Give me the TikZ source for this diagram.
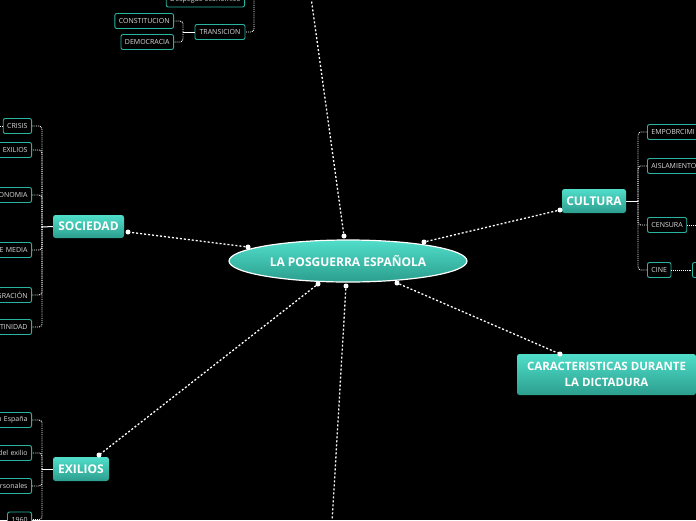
\documentclass[tikz,border=0pt]{standalone}
\usepackage{fontspec}
\setmainfont{Open Sans}
\usetikzlibrary{shapes.geometric}
\definecolor{tealtop}{RGB}{80,222,202}
\definecolor{tealbot}{RGB}{44,158,142}
\definecolor{leafc}{RGB}{40,180,160}
\definecolor{leaftext}{RGB}{220,220,220}
\begin{document}
\begin{tikzpicture}[x=1pt,y=-1pt,
  mainnode/.style={ellipse, draw=white, line width=1.2pt, top color=tealtop, bottom color=tealbot,
    minimum width=238pt, minimum height=42pt, inner sep=0pt, text=white,
    font=\bfseries\fontsize{12}{14}\selectfont},
  topic/.style={rectangle, rounded corners=2.5pt, top color=tealtop, bottom color=tealbot,
    text=white, inner sep=0pt, font=\bfseries\fontsize{12}{14}\selectfont},
  leaf/.style={rectangle, rounded corners=2pt, draw=leafc, line width=0.9pt, fill=black,
    text=leaftext, font=\fontsize{7}{8}\selectfont, minimum height=15pt, inner xsep=4pt, inner ysep=0pt},
  cutleft/.style={leaf, anchor=east, text width=70pt, align=right},
  cutright/.style={leaf, anchor=west, text width=70pt, align=left},
  link/.style={white, line width=1.3pt, dash pattern=on 2pt off 2pt},
  branch/.style={white, line width=0.9pt, densely dotted, rounded corners=3pt},
  stem/.style={white, line width=1pt},
  dotc/.style={circle, fill=white, inner sep=0pt, minimum size=5pt}]
\useasboundingbox (0,0) rectangle (696,520);
\fill[black] (0,0) rectangle (696,520);
\clip (0,0) rectangle (696,520);

% central node
\node[mainnode] (main) at (348,261) {LA POSGUERRA ESPAÑOLA};

% topics
\node[topic, minimum width=71pt, minimum height=23pt] (soc) at (88.5,226.5) {SOCIEDAD};
\node[topic, minimum width=64pt, minimum height=24pt] (cul) at (594,201) {CULTURA};
\node[topic, minimum width=179pt, minimum height=41pt, align=center,
  font=\bfseries\fontsize{11.5}{16}\selectfont] (car) at (606.5,374.5) {CARACTERISTICAS DURANTE\\LA DICTADURA};
\node[topic, minimum width=56pt, minimum height=24pt] (exi) at (81,469) {EXILIOS};

% off-picture ends
\coordinate (topend) at (311,-3);
\coordinate (botend) at (332,523);

% dots
\node[dotc] (mt) at (344,236) {};
\node[dotc] (ms) at (248,247) {};
\node[dotc] (mc) at (424,242) {};
\node[dotc] (mr) at (397,283) {};
\node[dotc] (me) at (318,284) {};
\node[dotc] (mb) at (346,286) {};
\node[dotc] (ds) at (128,232) {};
\node[dotc] (dc) at (560,210) {};
\node[dotc] (dr) at (560,354) {};
\node[dotc] (de) at (99,455) {};

% main links
\draw[link] (mt) -- (topend);
\draw[link] (ms) -- (ds);
\draw[link] (mc) -- (dc);
\draw[link] (mr) -- (dr);
\draw[link] (me) -- (de);
\draw[link] (mb) -- (botend);

% top-left group
\node[leaf, anchor=east] (desp) at (245,-0.5) {Despegue economico};
\node[leaf, minimum width=50pt] (tra) at (220,32) {TRANSICION};
\node[leaf, anchor=east] (con) at (174,21) {CONSTITUCION};
\node[leaf, anchor=east] (dem) at (174,42) {DEMOCRACIA};
\coordinate (tb) at (254,-10);
\coordinate (tl) at (183,32);
\draw[branch] (tb) |- (tra.east);
\draw[branch] (tb) |- (desp.east);
\draw[stem] (tra.west) -- (tl);
\draw[branch] (tl) |- (con.east);
\draw[branch] (tl) |- (dem.east);

% sociedad children
\node[leaf, anchor=east] (s1) at (32,126) {CRISIS};
\node[cutleft] (s2) at (32,150) {EXILIOS};
\node[cutleft] (s3) at (32,195) {ONOMIA};
\node[cutleft] (s4) at (32,250) {E MEDIA};
\node[cutleft] (s5) at (32,295) {GRACIÓN};
\node[cutleft] (s6) at (32,327) {TINIDAD};
\coordinate (sb) at (42,227);
\coordinate (s1l) at (-6,126);
\draw[stem] (soc.west) -- (sb);
\foreach \c in {s1,s2,s3,s4,s5,s6} \draw[branch] (sb) |- (\c.east);
\draw[branch] (s1.west) -- (s1l);

% exilios children
\node[cutleft] (e1) at (32,420) {n España};
\node[cutleft] (e2) at (32,453) {del exilio};
\node[cutleft] (e3) at (32,486) {rsonales};
\node[leaf, anchor=east] (e4) at (32,519.5) {1960};
\coordinate (eb) at (42,469);
\draw[stem] (exi.west) -- (eb);
\foreach \c in {e1,e2,e3,e4} \draw[branch] (eb) |- (\c.east);

% cultura children
\node[cutright] (c1) at (647,132) {EMPOBRCIMI};
\node[leaf, anchor=west] (c2) at (647,166) {AISLAMIENTO};
\node[leaf, anchor=west] (c3) at (647,225) {CENSURA};
\node[leaf, anchor=west] (c4) at (647,270) {CINE};
\node[leaf, anchor=west, minimum width=20pt] (c5) at (692,270) {};
\coordinate (cb) at (638,201);
\coordinate (c3r) at (700,225);
\draw[stem] (cul.east) -- (cb);
\foreach \c in {c1,c2,c3,c4} \draw[branch] (cb) |- (\c.west);
\draw[branch] (c3.east) -- (c3r);
\draw[branch] (c4.east) -- (c5.west);
\end{tikzpicture}
\end{document}
